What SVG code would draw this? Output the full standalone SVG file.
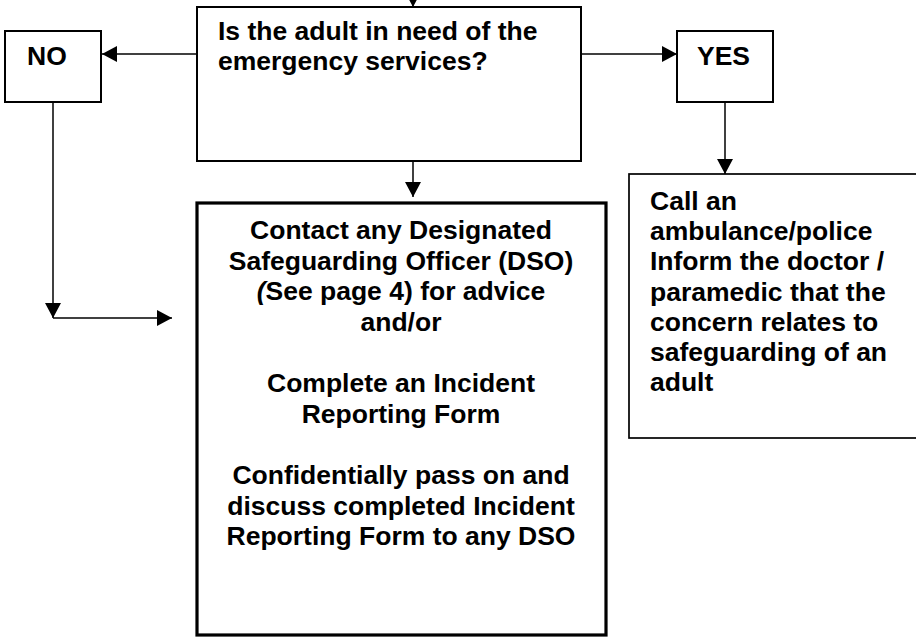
<svg xmlns="http://www.w3.org/2000/svg" width="916" height="637" viewBox="0 0 916 637">
<style>
.box{fill:#fff;stroke:#000;stroke-width:2}
.t{font-family:"Liberation Sans",Arial,sans-serif;font-weight:bold;font-size:26.5px;fill:#000}
.c{text-anchor:middle}
.ln{stroke:#000;stroke-width:1.5;fill:none}
</style>
<defs>
<marker id="ah" markerUnits="userSpaceOnUse" markerWidth="17" markerHeight="17" refX="15" refY="8" orient="auto">
<path d="M0,0 L15,8 L0,16 Z" fill="#000"/>
</marker>
</defs>
<rect width="916" height="637" fill="#fff"/>
<g id="connectors">
<line class="ln" x1="413" y1="-10" x2="413" y2="7" marker-end="url(#ah)"/>
<line class="ln" x1="197" y1="54" x2="102" y2="54" marker-end="url(#ah)"/>
<line class="ln" x1="581" y1="54" x2="677" y2="54" marker-end="url(#ah)"/>
<line class="ln" x1="413" y1="161" x2="413" y2="197" marker-end="url(#ah)"/>
<line class="ln" x1="725" y1="102" x2="725" y2="174" marker-end="url(#ah)"/>
<line class="ln" x1="53" y1="102" x2="53" y2="318" marker-end="url(#ah)"/>
<line class="ln" x1="53" y1="318" x2="172" y2="318" marker-end="url(#ah)"/>
</g>
<g id="question">
<rect class="box" x="197" y="7" width="384" height="154"/>
<text class="t" x="218" y="40">Is the adult in need of the</text>
<text class="t" x="218" y="70">emergency services?</text>
</g>
<g id="no">
<rect class="box" x="5" y="31" width="96" height="71"/>
<text class="t" x="27" y="65">NO</text>
</g>
<g id="yes">
<rect class="box" x="677" y="31" width="96" height="71"/>
<text class="t" x="697" y="65">YES</text>
</g>
<g id="action">
<rect class="box" x="197" y="203" width="409" height="432" style="stroke-width:3.2"/>
<text class="t c" x="401" y="239">Contact any Designated</text>
<text class="t c" x="401" y="270">Safeguarding Officer (DSO)</text>
<text class="t c" x="401" y="300"><tspan font-style="italic">(</tspan>See page 4) for advice</text>
<text class="t c" x="401" y="331">and/or</text>
<text class="t c" x="401" y="392">Complete an Incident</text>
<text class="t c" x="401" y="423">Reporting Form</text>
<text class="t c" x="401" y="484">Confidentially pass on and</text>
<text class="t c" x="401" y="515">discuss completed Incident</text>
<text class="t c" x="401" y="545">Reporting Form to any DSO</text>
</g>
<g id="call">
<rect class="box" x="629" y="174" width="300" height="264" style="stroke-width:1.7"/>
<text class="t" x="650" y="210">Call an</text>
<text class="t" x="650" y="240">ambulance/police</text>
<text class="t" x="650" y="270">Inform the doctor /</text>
<text class="t" x="650" y="301">paramedic that the</text>
<text class="t" x="650" y="331">concern relates to</text>
<text class="t" x="650" y="361">safeguarding of an</text>
<text class="t" x="650" y="391">adult</text>
</g>
</svg>
